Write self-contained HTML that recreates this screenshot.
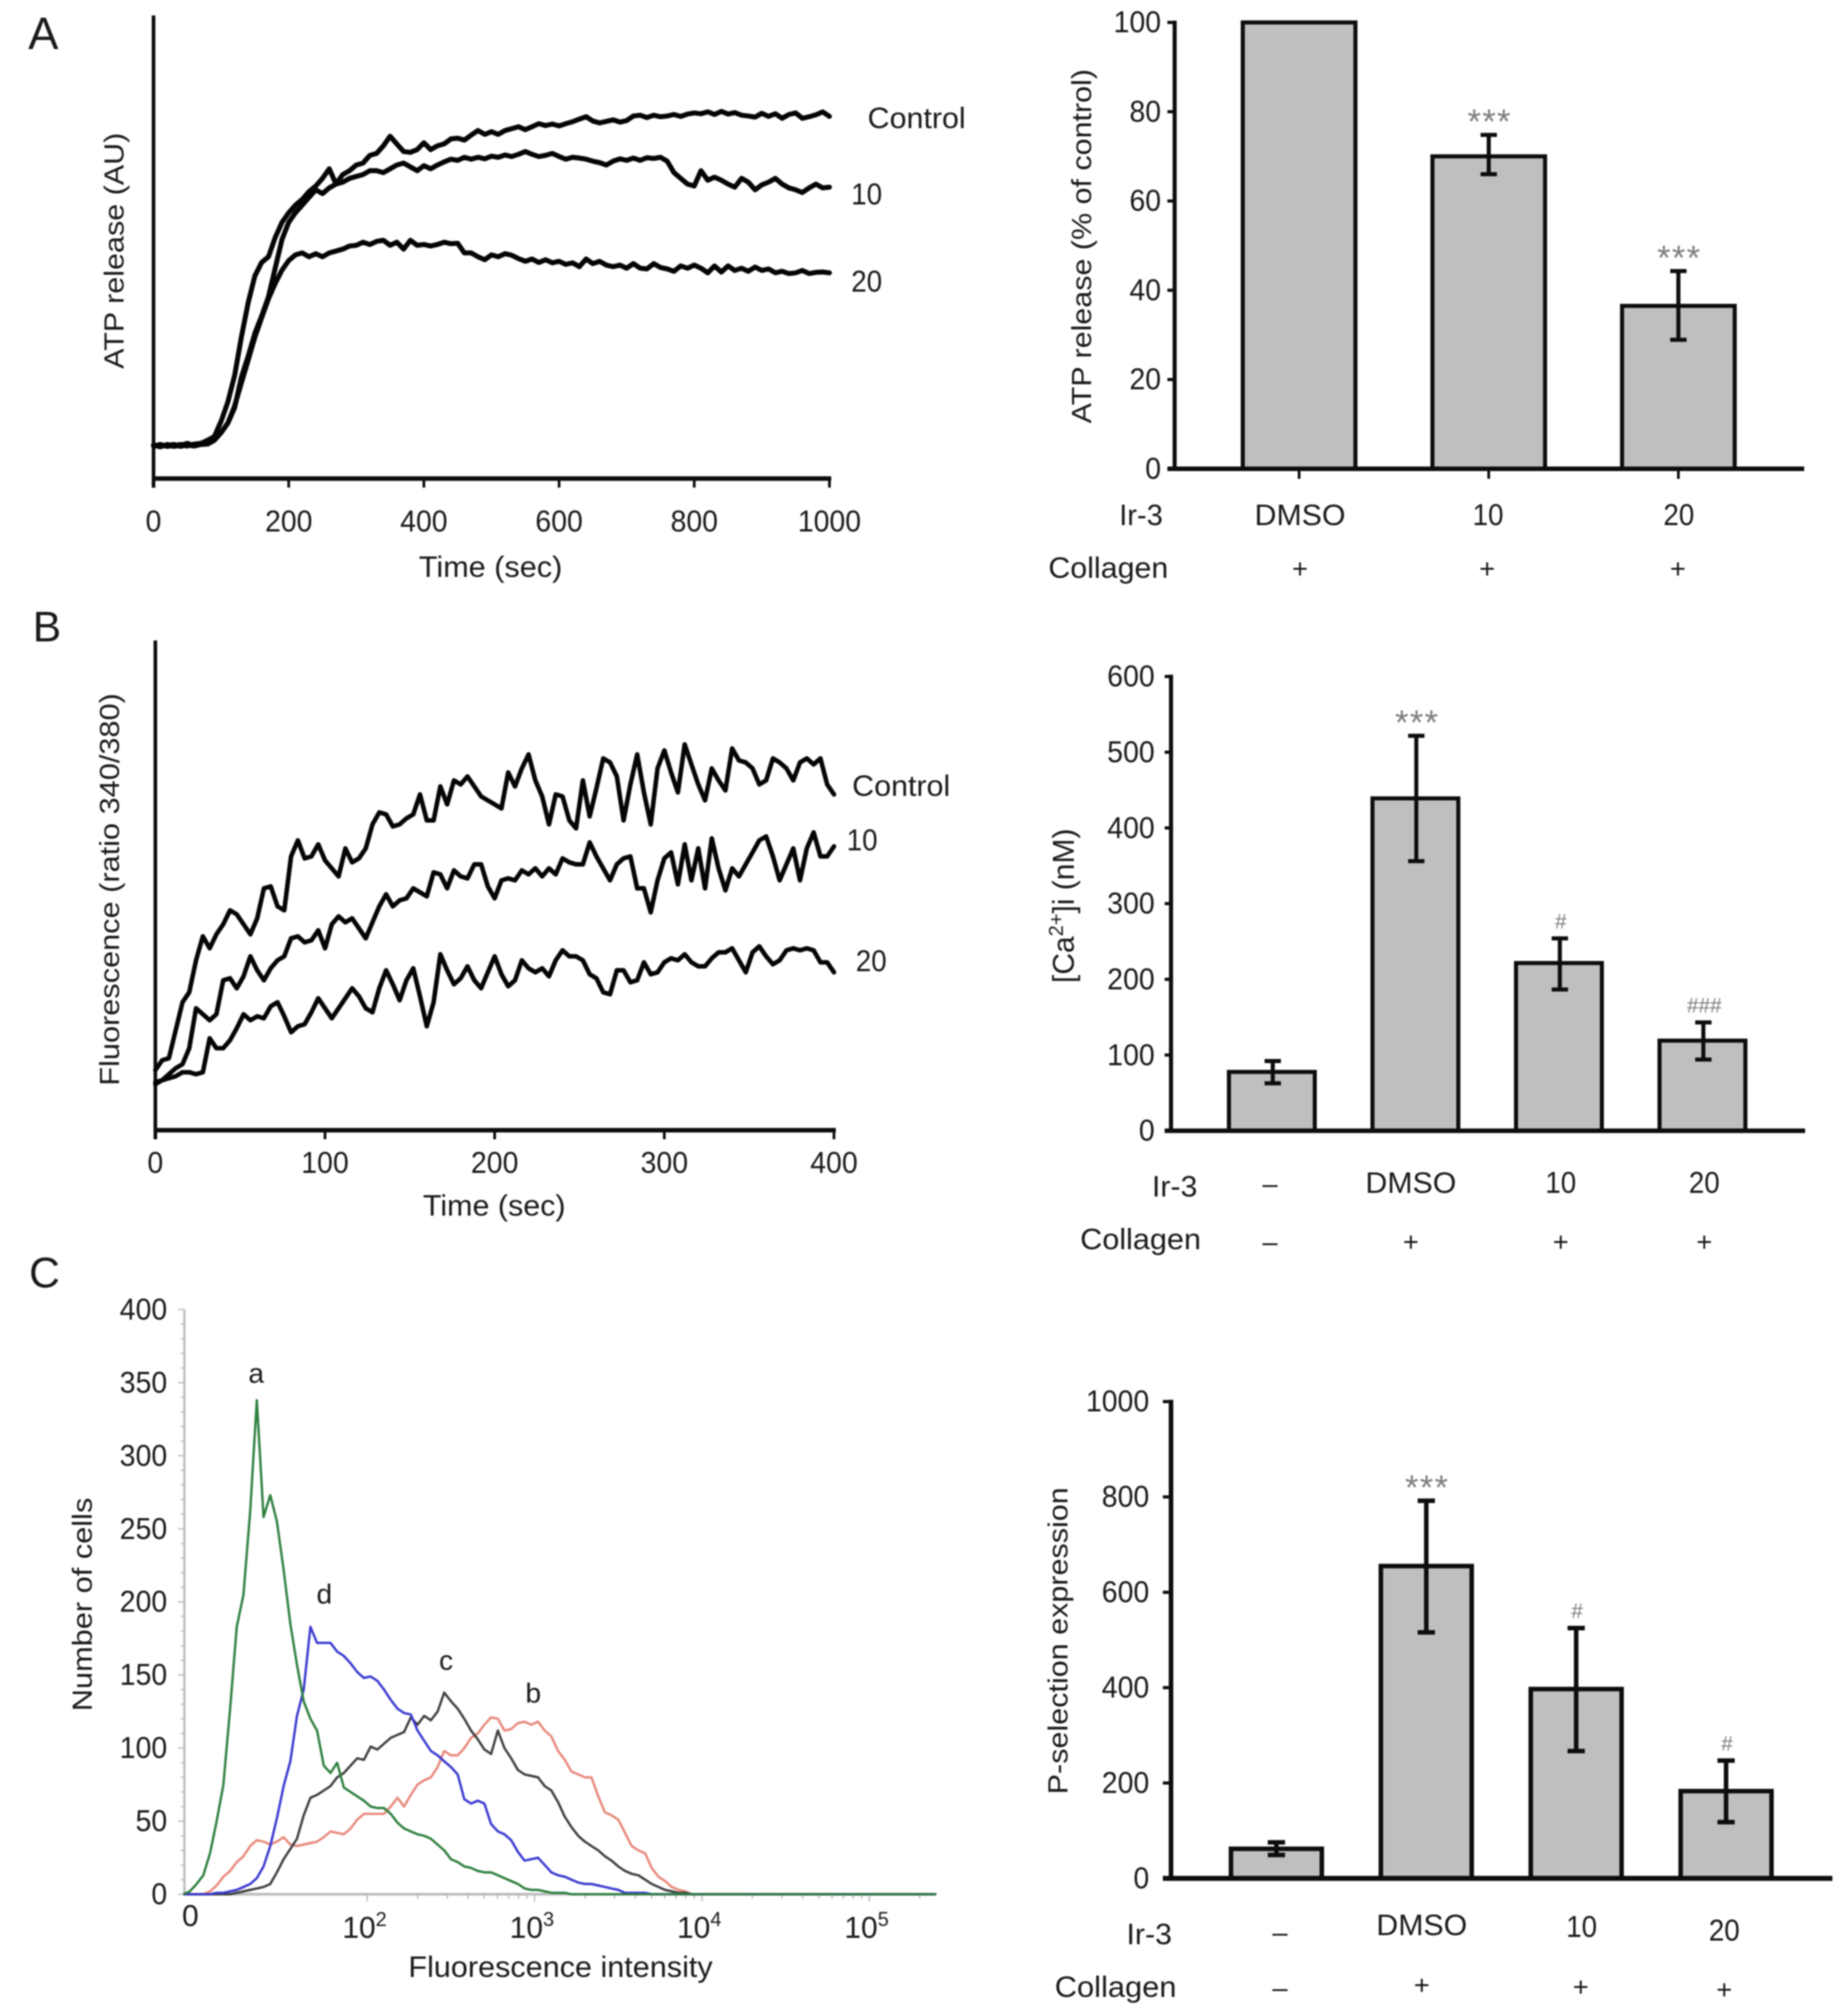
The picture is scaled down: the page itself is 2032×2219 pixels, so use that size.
<!DOCTYPE html>
<html lang="en">
<head>
<meta charset="utf-8">
<title>Ir-3 platelet activation figure</title>
<style>
html,body{margin:0;padding:0;background:#fff;}
svg{display:block;filter:blur(.8px);}
text{font-family:"Liberation Sans",sans-serif;fill:#1a1a1a;}
</style>
</head>
<body>
<svg id="figure" xmlns="http://www.w3.org/2000/svg" width="2032" height="2219" viewBox="0 0 2032 2219">
  <rect width="2032" height="2219" fill="#fff"/>
  <text x="31" y="54" font-size="50">A</text>
  <text x="36" y="706" font-size="47">B</text>
  <text x="32" y="1417" font-size="47">C</text>

  <g id="lineA">
    <text transform="translate(136,276) rotate(-90)" text-anchor="middle" font-size="31" textLength="260" lengthAdjust="spacingAndGlyphs" fill="#333">ATP release (AU)</text>
    <text x="540" y="635" text-anchor="middle" font-size="32" textLength="158" lengthAdjust="spacingAndGlyphs">Time (sec)</text>
    <text x="955" y="141" font-size="32" textLength="108" lengthAdjust="spacingAndGlyphs">Control</text>
    <text x="937" y="225" font-size="33" textLength="34" lengthAdjust="spacingAndGlyphs">10</text>
    <text x="937" y="321" font-size="33" textLength="34" lengthAdjust="spacingAndGlyphs">20</text>
  </g>

  <g id="barA">
    <text transform="translate(1201,271) rotate(-90)" text-anchor="middle" font-size="31" textLength="390" lengthAdjust="spacingAndGlyphs" fill="#333">ATP release (% of control)</text>
    <text x="1232" y="578" font-size="32" textLength="48" lengthAdjust="spacingAndGlyphs">Ir-3</text>
    <text x="1431" y="578" text-anchor="middle" font-size="32" textLength="100" lengthAdjust="spacingAndGlyphs">DMSO</text>
    <text x="1638" y="578" text-anchor="middle" font-size="33" textLength="34" lengthAdjust="spacingAndGlyphs">10</text>
    <text x="1848" y="578" text-anchor="middle" font-size="33" textLength="34" lengthAdjust="spacingAndGlyphs">20</text>
    <text x="1154" y="636" font-size="32" textLength="132" lengthAdjust="spacingAndGlyphs">Collagen</text>
    <text x="1431" y="636" text-anchor="middle" font-size="30">+</text>
    <text x="1637" y="636" text-anchor="middle" font-size="30">+</text>
    <text x="1847" y="636" text-anchor="middle" font-size="30">+</text>
  </g>

  <g id="lineB">
    <text transform="translate(131,979) rotate(-90)" text-anchor="middle" font-size="31" textLength="432" lengthAdjust="spacingAndGlyphs" fill="#333">Fluorescence (ratio 340/380)</text>
    <text x="544" y="1338" text-anchor="middle" font-size="32" textLength="157" lengthAdjust="spacingAndGlyphs">Time (sec)</text>
    <text x="938" y="876" font-size="32" textLength="108" lengthAdjust="spacingAndGlyphs">Control</text>
    <text x="932" y="936" font-size="33" textLength="34" lengthAdjust="spacingAndGlyphs">10</text>
    <text x="942" y="1069" font-size="33" textLength="34" lengthAdjust="spacingAndGlyphs">20</text>
  </g>

  <g id="barB">
    <text transform="translate(1182,997) rotate(-90)" text-anchor="middle" font-size="33" fill="#333">[Ca<tspan font-size="22" dy="-12">2+</tspan><tspan dy="12">]i (nM)</tspan></text>
    <text x="1268" y="1317" font-size="32" textLength="50" lengthAdjust="spacingAndGlyphs">Ir-3</text>
    <text x="1398" y="1313" text-anchor="middle" font-size="30">–</text>
    <text x="1553" y="1313" text-anchor="middle" font-size="32" textLength="100" lengthAdjust="spacingAndGlyphs">DMSO</text>
    <text x="1718" y="1313" text-anchor="middle" font-size="33" textLength="34" lengthAdjust="spacingAndGlyphs">10</text>
    <text x="1876" y="1313" text-anchor="middle" font-size="33" textLength="34" lengthAdjust="spacingAndGlyphs">20</text>
    <text x="1189" y="1375" font-size="32" textLength="133" lengthAdjust="spacingAndGlyphs">Collagen</text>
    <text x="1398" y="1377" text-anchor="middle" font-size="30">–</text>
    <text x="1553" y="1377" text-anchor="middle" font-size="30">+</text>
    <text x="1718" y="1377" text-anchor="middle" font-size="30">+</text>
    <text x="1876" y="1377" text-anchor="middle" font-size="30">+</text>
  </g>

  <g id="histC">
    <text transform="translate(101,1766) rotate(-90)" text-anchor="middle" font-size="31" textLength="235" lengthAdjust="spacingAndGlyphs">Number of cells</text>
    <text x="617" y="2176" text-anchor="middle" font-size="32" textLength="335" lengthAdjust="spacingAndGlyphs">Fluorescence intensity</text>
    <text x="282" y="1522" text-anchor="middle" font-size="31">a</text>
    <text x="357" y="1765" text-anchor="middle" font-size="31">d</text>
    <text x="491" y="1838" text-anchor="middle" font-size="31">c</text>
    <text x="587" y="1874" text-anchor="middle" font-size="31">b</text>
  </g>

  <g id="barC">
    <text transform="translate(1175,1806) rotate(-90)" text-anchor="middle" font-size="31" textLength="338" lengthAdjust="spacingAndGlyphs" fill="#333">P-selection expression</text>
    <text x="1240" y="2140" font-size="32" textLength="50" lengthAdjust="spacingAndGlyphs">Ir-3</text>
    <text x="1409" y="2137" text-anchor="middle" font-size="30">–</text>
    <text x="1565" y="2130" text-anchor="middle" font-size="32" textLength="100" lengthAdjust="spacingAndGlyphs">DMSO</text>
    <text x="1741" y="2132" text-anchor="middle" font-size="33" textLength="34" lengthAdjust="spacingAndGlyphs">10</text>
    <text x="1898" y="2136" text-anchor="middle" font-size="33" textLength="34" lengthAdjust="spacingAndGlyphs">20</text>
    <text x="1161" y="2198" font-size="32" textLength="134" lengthAdjust="spacingAndGlyphs">Collagen</text>
    <text x="1409" y="2198" text-anchor="middle" font-size="30">–</text>
    <text x="1565" y="2195" text-anchor="middle" font-size="30">+</text>
    <text x="1740" y="2197" text-anchor="middle" font-size="30">+</text>
    <text x="1898" y="2200" text-anchor="middle" font-size="30">+</text>
  </g>
</svg>

<script>
/* ---------- Panel A traces: AU sampled every 10 s ---------- */
const aTicks = [0,200,400,600,800,1000];
const aStepSec = 10;
const aControl = [
8.7,8.3,8.9,8.4,8.7,9.2,8.6,9,9.5,10.3,
12,14.5,18.5,26.5,32,38,42.5,47.5,55,62.5,
67,69.5,71.5,73.5,75.5,74.5,76,77,79.5,80.5,
82,82.5,84.5,85,87,89.5,87.5,85.5,85.3,86,
87.8,86,87,87.5,88.8,89,88.5,89.8,91,90,
90.7,90,91,91.5,92,91.2,92,92.8,92.3,92.7,
92.2,92.8,93.3,94,94.6,93.5,93,93.4,93.8,93.2,
93.6,94.8,95,94.4,95,94.6,94.8,95.2,94.7,95.3,
95.6,95.4,95.9,95.2,96,95.3,95.7,95,94.8,94.5,
95.5,94.7,95.4,94.2,95.2,95.6,94.2,94.6,95.1,95.9,
94.7];
const aDose10 = [
8.5,8.9,8.4,8.6,8.9,8.5,9,9.2,10,11,
15,20,27,37,46,53,56.5,58,63,67,
69.5,71.5,73,75,76.5,78.5,81,77,77.5,78.5,
79,79.5,80.5,80.5,80,81,82,82.5,81.5,80.5,
81.8,81,82,82.8,83.5,83.2,84,83.5,84,83.6,
84.3,84,84.6,84.2,84.8,85.5,84.8,84.2,84.5,85,
84.2,83.5,84,83.8,83.5,83,82.6,82,83,83.6,
83.2,83.8,83.2,83.9,83.7,84,83,80,78.5,77,
76.5,80.5,78,78.8,78,77,76.2,78.5,77.5,75.5,
76.8,77.5,78.5,77,76,75.5,74.8,76,77,76,
76.2];
const aDose20 = [
8.8,8.5,8.7,8.9,8.4,8.8,8.5,8.9,9,10,
12,14.5,19,25,31,37,42,47,51,54.5,
57,58.5,59,58,58.8,58,59,59.5,60,60.8,
61,61.8,61.2,62,62.3,61,61.8,60,62.3,61,
61.2,60.8,61.2,61.8,61.4,61.5,59,59,58,57.2,
58.5,58,58.8,58.4,57.5,56.8,57.4,56.5,57.2,56.4,
56.8,56,56.4,55.4,57.4,56.2,56.8,55.8,55.4,55.8,
55,56.2,55,54.8,56.2,55.2,54.8,54.2,55.6,55,
55.8,55,53.8,55.6,54,55.6,54.4,55,54.2,55.3,
54.4,54.8,53.8,54.2,53.6,53.8,54.4,53.6,53.9,54,
53.8];

/* ---------- Panel B traces: ratio signal sampled every 4 s ---------- */
const bTicks = [0,100,200,300,400];
const bStepSec = 4;
const bControl = [
15,17.5,18,25,32,34.5,42.5,48.5,45.5,49,
51.5,55,54,51.5,49,53,60.5,61,56,55,
68.5,72.5,68,68.5,71.5,67.5,65.5,63.5,70.5,67,
68,70.5,76.5,79.5,79,76,76.5,78,79,84,
77.5,77.5,86,81.5,87.5,86.5,88.5,86,83.5,82.5,
81.5,80.5,89.5,86,90.5,94,87.5,83.5,76.5,84,
83.5,77.5,75.5,87.5,78.5,85.5,93,92,88.5,77.5,
86.5,94,84.5,76.5,90.5,95,89.5,84.5,96.5,91.5,
86.5,82.5,90.5,87.5,85,95.5,92.5,92,90.5,86.5,
87.5,93,92,90.5,87.5,92,93,91.5,93,86.5,
84];
const bDose10 = [
11.5,12.5,14,15.5,16.5,20.5,30.5,29,27.5,29,
37.5,38,35.5,38.5,43.5,40,37.5,40.5,42.5,43.5,
48,48.5,47,47.5,50,45.5,51.5,53.5,52,53,
50.5,48,52,56,59,56,57.5,58,60.5,59.5,
58.5,64.5,64,60.5,65,63.5,63,66.5,66.5,61,
58,62.5,63,62.5,65,64,65.5,63.5,65.5,64,
68,67,66.5,66.5,72,68.5,65.5,62.5,66.5,68,
68.5,60.5,60.5,54.5,62.5,68,69.5,61.5,71.5,62.5,
70.5,60.5,73,65.5,60,65.5,63.5,66.5,69.5,72.5,
73.5,68.5,62.5,66.5,70.5,62.5,70.5,74.5,68.5,68.5,
71];
const bDose20 = [
12,12.5,13,13.5,14.5,14.5,14,14.5,23,20.5,
20.5,22.5,25.5,29,27.5,28.5,28,31,32,28.5,
24.5,26,26.5,29.5,33,30.5,28,30.5,33,35.5,
33.5,30.5,29.5,35.5,40,36.5,32.5,37.5,40.5,33.5,
26,32,44,40,36.5,38,41,37.5,35.5,39.5,
43.5,39,36,37.5,42.5,40.5,39.5,40.5,38.5,42.5,
45,43.5,43.5,42.5,39,38,34.5,34,40,40,
37,37.5,42,39,39.5,42,43,42.5,44,42,
41,41,43,44.5,44.5,45.5,42.5,39.5,44.5,46,
43.5,41.5,42.5,45,45.5,45,45.5,45,42,42,
39.5];

/* ---------- Panel C histogram: counts per bin of log10 intensity ---------- */
const cYTicks = [0,50,100,150,200,250,300,350,400];
const cDecades = [2,3,4,5];
const cBinStart = 0.90;
const cBinStep = 0.04;
const cAxisEnd = 5.40;
const cCurveA = [
0,2,7,13,28,50,75,127,183,205,
262,338,258,273,255,222,185,157,132,120,
112,88,83,90,73,70,67,64,60,59,
59,55,49,45,43,41,40,38,34,30,
24,22,19,18,16,15,15,13,11,9,
7,4,3,3,2,1,1,1,0,0,
0,0,0,0,0,0,0,0,0,0,
0,0,0,0,0,0,0,0,0];
const cCurveD = [
0,0,0,0,0,1,1,2,3,5,
7,11,19,33,52,74,91,122,140,183,
172,172,172,166,163,158,152,148,149,146,
140,133,127,124,123,112,105,98,95,91,
87,82,65,62,64,62,48,43,41,37,
29,23,24,25,20,15,13,12,10,8,
7,7,6,5,4,3,1,1,1,1,
0,0,0,0,0,0,0,0,0];
const cCurveC = [
0,0,0,0,0,0,0,0,1,2,
3,4,5,7,15,24,31,38,54,66,
68,71,74,80,83,88,93,92,101,99,
103,107,109,111,121,116,122,119,125,138,
132,127,120,112,106,99,96,112,100,93,
85,82,81,80,74,71,63,53,46,40,
36,33,30,26,23,19,16,14,13,10,
7,5,3,2,1,1,0,0,0];
const cCurveB = [
0,0,0,0,2,6,12,16,22,26,
33,37,36,34,36,39,34,33,34,35,
36,39,43,42,41,45,51,55,55,55,
55,60,66,60,68,75,78,80,87,98,
95,95,100,107,110,116,121,120,112,113,
117,118,116,118,112,108,98,92,84,82,
80,80,67,56,54,51,42,33,30,28,
18,12,9,5,3,2,0,0,0];

/* ---------- Bar charts ---------- */
const barACategories = ['DMSO','10','20'];
const barAValues = [100,70,36.5];
const barAErrHigh = [null,74.8,44.3];
const barAErrLow = [null,66,28.9];
const barASig = ['','***','***'];
const barATicks = [0,20,40,60,80,100];

const barBCategories = ['None','DMSO','10','20'];
const barBValues = [77.7,439,221.5,119];
const barBErrHigh = [92,521.6,254,143];
const barBErrLow = [62.6,356,186.6,94];
const barBSig = ['','***','#','###'];
const barBTicks = [0,100,200,300,400,500,600];

const barCCategories = ['None','DMSO','10','20'];
const barCValues = [62,655,397,183];
const barCErrHigh = [75.5,792,525,247];
const barCErrLow = [49,516,267,118];
const barCSig = ['','***','#','#'];
const barCTicks = [0,200,400,600,800,1000];

const NS = 'http://www.w3.org/2000/svg';
const INK = '#0d0d0d';
const DIGIT_W = 17.4;
function make(tag, attrs, parent, text){
  const el = document.createElementNS(NS, tag);
  for (const k in attrs) el.setAttribute(k, attrs[k]);
  if (text !== undefined) el.textContent = text;
  parent.appendChild(el);
  return el;
}
function pathOf(values, xf, yf){
  return values.map((v,i)=>(i?'L':'M')+xf(i).toFixed(1)+' '+yf(v).toFixed(1)).join('');
}
function digitAttrs(label, x, y, anchor){
  return {x:x,y:y,'text-anchor':anchor,'font-size':33,textLength:(label.length*DIGIT_W).toFixed(1),lengthAdjust:'spacingAndGlyphs'};
}

/* ---- trace charts (A, B) ---- */
function drawTraceChart(g, cfg){
  const axisY = make('line',{x1:cfg.x0,x2:cfg.x0,y1:cfg.top,y2:cfg.base+10,stroke:INK,'stroke-width':4},g);
  
  
  const axisX = make('line',{x1:cfg.x0-1,x2:cfg.xf(cfg.ticks[cfg.ticks.length-1])+2,y1:cfg.base,y2:cfg.base,stroke:INK,'stroke-width':5},g);
  
  
  cfg.ticks.forEach(t=>{
    const tick = make('line',{x1:cfg.xf(t),x2:cfg.xf(t),y1:cfg.base,y2:cfg.base+10,stroke:INK,'stroke-width':3},g);
    
    
    const lab = make('text',digitAttrs(String(t),cfg.xf(t),cfg.labelY,'middle'),g,String(t));
    
    
  });
  cfg.series.forEach(s=>{
    const p = make('path',{d:pathOf(s.values,i=>cfg.xf(i*cfg.step),cfg.yf),fill:'none',stroke:'#050505','stroke-width':cfg.lineW,'stroke-linejoin':'round','stroke-linecap':'round'},g);
    
    
  });
}
const xA = t => 169 + t*0.744;
const yA = v => 526.7 - v*4.209;
drawTraceChart(document.getElementById('lineA'),{
  x0:169, top:17, base:526.7, labelY:585, lineW:5.5, ticks:aTicks, step:aStepSec, xf:xA, yf:yA,
  series:[{name:'trace-control',values:aControl},{name:'trace-10',values:aDose10},{name:'trace-20',values:aDose20}]
});
const xB = t => 171 + t*1.8675;
const yB = v => 1244 - v*4.4;
drawTraceChart(document.getElementById('lineB'),{
  x0:171, top:705, base:1244, labelY:1291, lineW:5, ticks:bTicks, step:bStepSec, xf:xB, yf:yB,
  series:[{name:'trace-control',values:bControl},{name:'trace-10',values:bDose10},{name:'trace-20',values:bDose20}]
});

/* ---- bar charts ---- */
function drawBarChart(g, cfg){
  const yf = v => cfg.base - (v/cfg.max)*(cfg.base-cfg.top);
  const xf = i => cfg.first + i*cfg.step;
  cfg.values.forEach((v,i)=>{
    const bar = make('rect',{x:xf(i)-cfg.width/2,y:yf(v),width:cfg.width,height:cfg.base-yf(v),fill:'#bfbfbf',stroke:INK,'stroke-width':cfg.stroke},g);
    
    
  });
  const axisY = make('line',{x1:cfg.x0,x2:cfg.x0,y1:cfg.top-2,y2:cfg.base,stroke:INK,'stroke-width':cfg.stroke},g);
  
  
  const axisX = make('line',{x1:cfg.x0-cfg.tickLen,x2:cfg.xEnd,y1:cfg.base,y2:cfg.base,stroke:INK,'stroke-width':cfg.stroke+0.5},g);
  
  
  cfg.ticks.forEach(t=>{
    const tick = make('line',{x1:cfg.x0-cfg.tickLen,x2:cfg.x0,y1:yf(t),y2:yf(t),stroke:INK,'stroke-width':3.5},g);
    
    
    const lab = make('text',digitAttrs(String(t),cfg.labelX,yf(t)+11,'end'),g,String(t));
    
    
  });
  if (cfg.xTicks) cfg.values.forEach((v,i)=>{
    const tick = make('line',{x1:xf(i),x2:xf(i),y1:cfg.base,y2:cfg.base+11,stroke:INK,'stroke-width':3},g);
    
    
  });
  cfg.values.forEach((v,i)=>{
    if (cfg.hi[i] === null) return;
    const cap = cfg.capW/2, cx = xf(i)+cfg.errShift;
    const err = make('path',{d:`M${cx} ${yf(cfg.hi[i])}V${yf(cfg.lo[i])}M${cx-cap} ${yf(cfg.hi[i])}H${cx+cap}M${cx-cap} ${yf(cfg.lo[i])}H${cx+cap}`,fill:'none',stroke:INK,'stroke-width':cfg.stroke},g);
    
    
    const s = cfg.sig[i];
    if (s){
      const stars = s[0]==='*';
      const mark = make('text',{x:cx+1,y:yf(cfg.hi[i])-(stars?2:11),'text-anchor':'middle','font-size':stars?38:23,style:'fill:#7d7d7d;'+(stars?'letter-spacing:1.5px':'')},g,s);
      
      
    }
  });
}
drawBarChart(document.getElementById('barA'),{
  categories:barACategories, values:barAValues, hi:barAErrHigh, lo:barAErrLow, sig:barASig, ticks:barATicks,
  max:100, base:516, top:24.7, x0:1293, xEnd:1986, tickLen:8, labelX:1278, first:1430, step:208.75, width:124, stroke:4.5, capW:18, errShift:0, xTicks:true
});
drawBarChart(document.getElementById('barB'),{
  categories:barBCategories, values:barBValues, hi:barBErrHigh, lo:barBErrLow, sig:barBSig, ticks:barBTicks,
  max:600, base:1244.6, top:744.6, x0:1289, xEnd:1987, tickLen:7, labelX:1271, first:1400, step:158, width:94.5, stroke:4.5, capW:18, errShift:1, xTicks:false
});
drawBarChart(document.getElementById('barC'),{
  categories:barCCategories, values:barCValues, hi:barCErrHigh, lo:barCErrLow, sig:barCSig, ticks:barCTicks,
  max:1000, base:2067.5, top:1542.7, x0:1289, xEnd:2017, tickLen:9, labelX:1265, first:1405, step:165, width:100, stroke:5, capW:19, errShift:0, xTicks:false
});

/* ---- histogram ---- */
const gC = document.getElementById('histC');
const xC = d => 404.3 + (d-2)*184.2;
const yC = v => 2085 - v*1.609;
const AXIS_GRAY = '#bdbdbd';
const cY = make('line',{x1:203,x2:203,y1:yC(400),y2:yC(0),stroke:AXIS_GRAY,'stroke-width':2.5},gC);


const cX = make('line',{x1:203,x2:xC(cAxisEnd),y1:yC(0),y2:yC(0),stroke:AXIS_GRAY,'stroke-width':3},gC);


for (let v=0; v<=400; v+=10){
  const major = v%50===0;
  const minor = make('line',{x1:major?196:199,x2:203,y1:yC(v),y2:yC(v),stroke:AXIS_GRAY,'stroke-width':1.5},gC);
  
  
}
cYTicks.forEach(v=>{
  const lab = make('text',digitAttrs(String(v),184,yC(v)+11,'end'),gC,String(v));
  
  
});
cDecades.forEach(d=>{
  for (let k=1;k<10;k++){
    const pos = d+Math.log10(k);
    if (pos>cAxisEnd) continue;
    const t = make('line',{x1:xC(pos),x2:xC(pos),y1:yC(0),y2:yC(0)+(k===1?8:5),stroke:AXIS_GRAY,'stroke-width':1.5},gC);
    
    
  }
  const lab = make('text',{x:xC(d)-3,y:2133,'text-anchor':'middle','font-size':33},gC);
  
  
  make('tspan',{},lab,'10');
  make('tspan',{'font-size':22,dy:-13},lab,String(d));
});
const zeroLab = make('text',{x:209.6,y:2120,'text-anchor':'middle','font-size':33},gC,'0');


const cBinX = i => xC(cBinStart + i*cBinStep);
function drawCurve(values, color, name){
  const d = pathOf(values, cBinX, yC) + 'L' + xC(cAxisEnd).toFixed(1) + ' ' + yC(0).toFixed(1);
  const p = make('path',{d:d,fill:'none',stroke:color,'stroke-width':2.6,'stroke-linejoin':'round'},gC);
  
  
}
drawCurve(cCurveB,'#e8897c','curve-b');
drawCurve(cCurveC,'#3f3f3f','curve-c');
drawCurve(cCurveD,'#3a3ad0','curve-d');
drawCurve(cCurveA,'#2f8040','curve-a');
</script>
</body>
</html>
